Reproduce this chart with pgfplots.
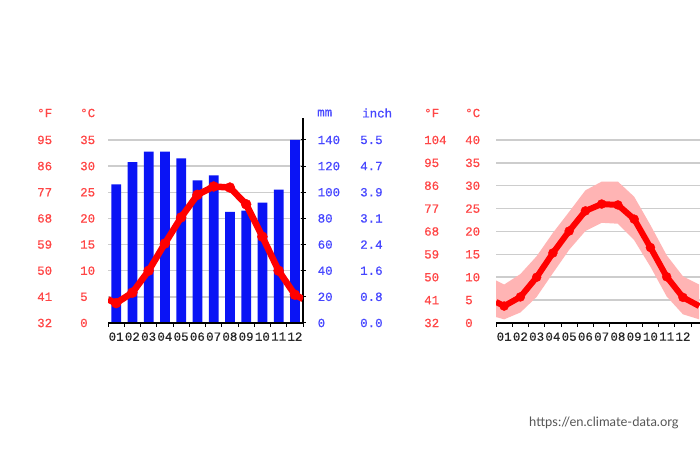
\documentclass[border=0pt]{standalone}
\usepackage{pgfplots}
\pgfplotsset{compat=1.18}
\usepackage{fontspec}
\setmainfont{Liberation Mono}[FakeBold=0.6]
\newfontfamily\srcfont{Lato}
\definecolor{tred}{RGB}{255,70,70}
\definecolor{pblue}{RGB}{70,70,255}
\definecolor{barblue}{RGB}{10,20,245}
\definecolor{lred}{RGB}{255,0,0}
\definecolor{bandc}{RGB}{255,180,180}
\definecolor{gridc}{RGB}{205,205,205}
\definecolor{xlab}{RGB}{40,40,40}
\newcommand\tfont{\fontsize{12.5}{14}\selectfont}

\pgfplotstableread{
m prec temp
1 106 3.8
2 123 5.8
3 131 10.0
4 131 15.2
5 126 20.2
6 109 24.5
7 113 26.1
8 85 25.9
9 86 22.7
10 92 16.5
11 102 10.0
12 140 5.4
}\climate

\pgfplotstableread{
x t
0.5 4.5
1 3.8
2 5.8
3 10.0
4 15.2
5 20.2
6 24.5
7 26.1
8 25.9
9 22.7
10 16.5
11 10.0
12 5.4
12.5 4.6
}\leftline

\pgfplotstableread{
x mean
0.5 4.6
1 3.7
2 5.7
3 10.0
4 15.3
5 20.1
6 24.5
7 26.0
8 25.8
9 22.7
10 16.5
11 10.1
12 5.6
13 3.7
}\rightdata

% band polygon: upper (max) forward, lower (min) backward
\pgfplotstableread{
x y
0.5 9.3
1 8.4
2 10.7
3 14.6
4 19.7
5 24.3
6 29.0
7 30.9
8 30.9
9 27.6
10 21.4
11 14.8
12 10.2
13 8.4
13 0.8
12 1.9
11 5.8
10 12.3
9 18.1
8 21.7
7 21.9
6 20.1
5 16.0
4 10.9
3 5.7
2 2.3
1 0.8
0.5 1.3
}\band

\pgfplotstableread{
x mean
1 3.7
2 5.7
3 10.0
4 15.3
5 20.1
6 24.5
7 26.0
8 25.8
9 22.7
10 16.5
11 10.1
12 5.6
}\rightmarks

\begin{document}
\begin{tikzpicture}[x=1bp,y=1bp]
\useasboundingbox (0,0) rectangle (700,450);
\fill[white] (0,0) rectangle (700,450);

% ---------- left chart: precipitation (mm) ----------
\begin{axis}[
  at={(108bp,127bp)}, anchor=south west, scale only axis,
  width=195bp, height=205bp,
  xmin=0.5, xmax=12.5, ymin=0, ymax=156.8,
  axis x line=none, axis y line*=right,
  y axis line style={black, line width=1.2bp},
  ytick={0,20,...,140},
  ytick style={black, line width=1bp},
  major tick length=5bp, tick align=center,
  ymajorgrids, grid style={gridc, line width=1.5bp},
  yticklabel style={anchor=west, inner sep=0pt, xshift=12bp, text=pblue, font=\tfont},
  /pgf/number format/assume math mode=true,
]
\addplot[ybar, bar width=0.6, fill=barblue, draw=none] table[x=m, y=prec] {\climate};
\end{axis}

% inch labels
\begin{axis}[
  at={(108bp,127bp)}, anchor=south west, scale only axis,
  width=195bp, height=205bp,
  xmin=0.5, xmax=12.5, ymin=0, ymax=156.8,
  axis x line=none, axis y line*=right,
  y axis line style={draw=none},
  ytick={0,20,...,140},
  yticklabels={0.0,0.8,1.6,2.4,3.1,3.9,4.7,5.5},
  ytick style={draw=none},
  yticklabel style={anchor=west, inner sep=0pt, xshift=57bp, text=pblue, font=\tfont},
]
\addplot[draw=none] coordinates {(1,1) (2,2)};
\end{axis}

% temperature axis (C)
\begin{axis}[
  at={(108bp,127bp)}, anchor=south west, scale only axis,
  width=195bp, height=205bp,
  xmin=0.5, xmax=12.5, ymin=0, ymax=39.2,
  axis lines*=left,
  y axis line style={draw=none},
  x axis line style={black, line width=1.2bp},
  ytick={0,5,...,35}, ytick style={draw=none},
  yticklabel style={anchor=west, inner sep=0pt, xshift=-28bp, text=tred, font=\tfont},
  xtick={1,...,12},
  xticklabels={01,02,03,04,05,06,07,08,09,10,11,12},
  major x tick style={draw=none},
  minor xtick={0.5,1.5,...,12.5},
  minor x tick style={black, line width=1bp},
  minor tick length=4bp, xtick align=outside,
  xticklabel style={text=xlab, font=\tfont, inner sep=0pt, yshift=-5bp},
  /pgf/number format/assume math mode=true,
]
\addplot[lred, line width=6.5bp, line join=round] table[x=x, y=t] {\leftline};
\addplot[only marks, mark=*, mark size=5bp, lred] table[x=m, y=temp] {\climate};
\end{axis}

% F labels
\begin{axis}[
  at={(108bp,127bp)}, anchor=south west, scale only axis,
  width=195bp, height=205bp,
  xmin=0.5, xmax=12.5, ymin=0, ymax=39.2,
  hide x axis, axis lines*=left,
  y axis line style={draw=none},
  ytick={0,5,...,35},
  yticklabels={32,41,50,59,68,77,86,95},
  ytick style={draw=none},
  yticklabel style={anchor=west, inner sep=0pt, xshift=-71bp, text=tred, font=\tfont},
]
\addplot[draw=none] coordinates {(1,1) (2,2)};
\end{axis}

% ---------- right chart ----------
\begin{axis}[
  at={(496bp,127bp)}, anchor=south west, scale only axis,
  width=204bp, height=183bp,
  xmin=0.5, xmax=13.05, ymin=0, ymax=40,
  axis lines*=left,
  y axis line style={draw=none},
  x axis line style={black, line width=1.2bp},
  ytick={0,5,...,40}, ytick style={draw=none},
  ymajorgrids, grid style={gridc, line width=1.5bp},
  yticklabel style={anchor=west, inner sep=0pt, xshift=-31bp, text=tred, font=\tfont},
  xtick={1,...,12},
  xticklabels={01,02,03,04,05,06,07,08,09,10,11,12},
  major x tick style={draw=none},
  minor xtick={0.5,1.5,...,12.5},
  minor x tick style={black, line width=1bp},
  minor tick length=4bp, xtick align=outside,
  xticklabel style={text=xlab, font=\tfont, inner sep=0pt, yshift=-5bp},
  /pgf/number format/assume math mode=true,
]
\addplot[fill=bandc, draw=none] table[x=x, y=y] {\band};
\addplot[lred, line width=6bp, line join=round] table[x=x, y=mean] {\rightdata};
\addplot[only marks, mark=*, mark size=4.5bp, lred] table[x=x, y=mean] {\rightmarks};
\end{axis}

\begin{axis}[
  at={(496bp,127bp)}, anchor=south west, scale only axis,
  width=204bp, height=183bp,
  xmin=0.5, xmax=13.05, ymin=0, ymax=40,
  hide x axis, axis lines*=left,
  y axis line style={draw=none},
  ytick={0,5,...,40},
  yticklabels={32,41,50,59,68,77,86,95,104},
  ytick style={draw=none},
  yticklabel style={anchor=west, inner sep=0pt, xshift=-72bp, text=tred, font=\tfont},
]
\addplot[draw=none] coordinates {(1,1) (2,2)};
\end{axis}

% headers
\begin{scope}[every node/.style={anchor=west, inner sep=0pt, font=\tfont}]
\node[text=tred] at (37,337) {°F};
\node[text=tred] at (80,337) {°C};
\node[text=pblue] at (317,337) {mm};
\node[text=pblue] at (362,337) {inch};
\node[text=tred] at (424,337) {°F};
\node[text=tred] at (465,337) {°C};
\end{scope}

\node[anchor=west, inner sep=0pt, text={rgb,255:red,85;green,85;blue,85}] at (529,27)
  {\srcfont\fontsize{13}{13}\selectfont https://en.climate-data.org};
\end{tikzpicture}
\end{document}
